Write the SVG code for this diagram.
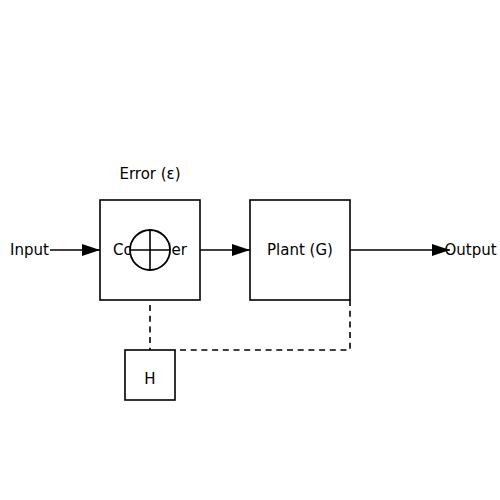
<svg xmlns="http://www.w3.org/2000/svg" width="500" height="500" viewBox="0 0 500 500">
  <style>
    .box { fill: #fff; stroke: #000; stroke-width: 1.6; }
    .lbl { font-family: "DejaVu Sans", sans-serif; font-size: 15px; fill: #000; text-anchor: middle; dominant-baseline: central; }
    .edge { stroke: #000; stroke-width: 1.6; fill: none; }
    .dash { stroke: #000; stroke-width: 1.6; fill: none; stroke-dasharray: 6 4.7; }
  </style>
  <defs>
    <marker id="arr" viewBox="0 0 18 12" refX="18" refY="6" markerWidth="18" markerHeight="12" markerUnits="userSpaceOnUse" orient="auto">
      <path d="M0,0 L18,6 L0,12 z" fill="#000"/>
    </marker>
  </defs>
  <rect width="500" height="500" fill="#fff"/>
  <g id="connectors">
    <line class="edge" x1="50" y1="250" x2="100" y2="250" marker-end="url(#arr)"/>
    <line class="edge" x1="200" y1="250" x2="250" y2="250" marker-end="url(#arr)"/>
    <line class="edge" x1="350" y1="250" x2="450" y2="250" marker-end="url(#arr)"/>
    <line class="dash" x1="150" y1="305" x2="150" y2="350"/>
    <polyline class="dash" points="350,300 350,350 175,350"/>
  </g>
  <g id="controller">
    <rect class="box" x="100" y="200" width="100" height="100"/>
    <text class="lbl" x="150" y="250">Controller</text>
  </g>
  <g id="sum">
    <circle cx="150" cy="250" r="20" fill="#fff" stroke="#000" stroke-width="1.8"/>
    <line class="edge" x1="130" y1="250" x2="170" y2="250"/>
    <line class="edge" x1="150" y1="230" x2="150" y2="270"/>
  </g>
  <g id="plant">
    <rect class="box" x="250" y="200" width="100" height="100"/>
    <text class="lbl" x="300" y="250">Plant (G)</text>
  </g>
  <g id="feedback">
    <rect class="box" x="125" y="350" width="50" height="50"/>
    <text class="lbl" x="150" y="379">H</text>
  </g>
  <g id="input"><text class="lbl" x="29.5" y="250">Input</text></g>
  <g id="output"><text class="lbl" x="470.5" y="250">Output</text></g>
  <g id="error"><text class="lbl" x="150" y="174">Error (ε)</text></g>
</svg>
